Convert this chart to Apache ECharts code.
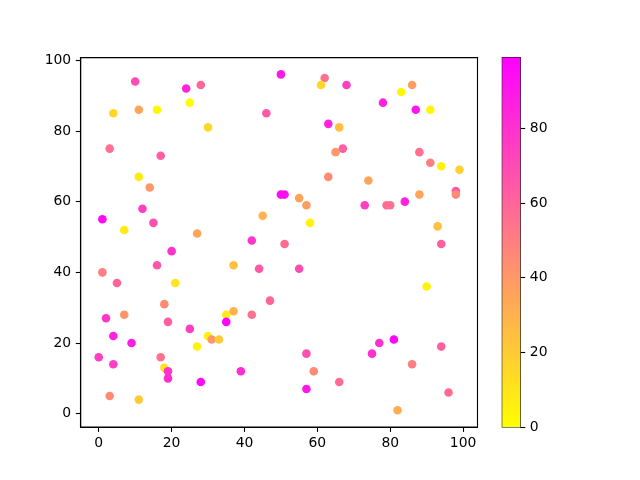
<!DOCTYPE html>
<html>
<head>
<meta charset="utf-8">
<script src="https://cdn.jsdelivr.net/npm/echarts@6/dist/echarts.min.js"></script>
<style>html,body{margin:0;padding:0;background:#fff}#c{width:640px;height:480px}</style>
</head>
<body>
<div id="c"></div>
<script>
const xs = [10,24,28,25,4,11,16,30,46,50,3,17,11,14,12,1,15,7,27,50,51,45,62,61,68,78,83,86,87,91,63,66,65,67,88,91,94,99,63,74,55,57,73,79,80,84,88,98,98,58,93,42,20,16,1,37,44,5,21,47,18,2,7,19,35,37,42,35,25,4,9,30,31,33,27,0,4,17,18,19,19,28,39,3,11,51,94,55,90,57,59,57,66,75,77,81,94,86,96,82];
const ys = [94,92,93,88,85,86,86,81,85,96,75,73,67,64,58,55,54,52,51,62,62,56,95,93,93,88,91,93,86,86,82,81,74,75,74,71,70,69,67,66,61,59,59,59,59,60,62,63,62,54,53,49,46,42,40,42,41,37,37,32,31,27,28,26,28,29,28,26,24,22,20,22,21,21,19,16,14,16,13,12,10,9,12,5,4,48,48,41,36,17,12,7,9,17,20,21,19,14,6,1];
const cs = [70,85,60,2,15,35,3,15,65,90,55,62,8,40,75,95,68,8,35,95,93,30,55,15,75,85,3,38,90,3,85,25,40,62,55,50,5,18,45,35,35,38,75,57,55,85,35,65,45,5,25,78,80,65,50,25,65,60,10,60,45,78,42,62,8,30,55,97,75,85,88,5,40,20,5,75,75,55,10,80,82,95,82,45,20,58,62,70,5,68,45,90,57,80,80,97,62,50,57,32];
const xTicks = [0,20,40,60,80,100];
const yTicks = [0,20,40,60,80,100];
const cTicks = [0,20,40,60,80];
const cMin = 0, cMax = 99;

const pts = xs.map((x,i)=>[x, ys[i], cs[i]]);
const font = {fontFamily:'DejaVu Sans', fontSize:13.9, color:'#000'};
const lineBlack = {lineStyle:{color:'#000', width:1.1}};

const chart = echarts.init(document.getElementById('c'), null, {renderer:'canvas'});
chart.setOption({
  backgroundColor:'#fff',
  animation:false,
  grid:[
    {left:80.7, top:57.6, width:396.8, height:369.4, show:true, borderColor:'#000', borderWidth:1.1, containLabel:false},
    {left:502.3, top:57.6, width:18, height:369.4, show:true, borderColor:'#000', borderWidth:1.1, containLabel:false}
  ],
  xAxis:[
    {type:'value', gridIndex:0, min:-4.95, max:103.95,
     splitLine:{show:false},
     axisLine:{show:true, onZero:false, ...lineBlack},
     axisTick:{show:true, length:4.9, customValues:xTicks, ...lineBlack},
     axisLabel:{...font, margin:9.5, customValues:xTicks}},
    {type:'category', gridIndex:1, data:[''], show:false}
  ],
  yAxis:[
    {type:'value', gridIndex:0, min:-3.75, max:100.75,
     splitLine:{show:false},
     axisLine:{show:true, onZero:false, ...lineBlack},
     axisTick:{show:true, length:4.9, customValues:yTicks, ...lineBlack},
     axisLabel:{...font, margin:9.5, customValues:yTicks}},
    {type:'value', gridIndex:1, min:cMin, max:cMax, position:'right',
     splitLine:{show:false},
     axisLine:{show:false},
     axisTick:{show:true, length:4.9, customValues:cTicks, ...lineBlack},
     axisLabel:{...font, margin:9.5, customValues:cTicks}}
  ],
  visualMap:{type:'continuous', show:false, min:cMin, max:cMax, dimension:2, seriesIndex:0,
    inRange:{color:['#ffff00','#ff00ff']}},
  series:[
    {type:'scatter', xAxisIndex:0, yAxisIndex:0, data:pts, symbolSize:8.6,
     itemStyle:{opacity:1}},
    {type:'bar', xAxisIndex:1, yAxisIndex:1, data:[cMax], barWidth:'100%',
     itemStyle:{color:new echarts.graphic.LinearGradient(0,1,0,0,[{offset:0,color:'#ffff00'},{offset:1,color:'#ff00ff'}])},
     silent:true}
  ]
});
</script>
</body>
</html>
